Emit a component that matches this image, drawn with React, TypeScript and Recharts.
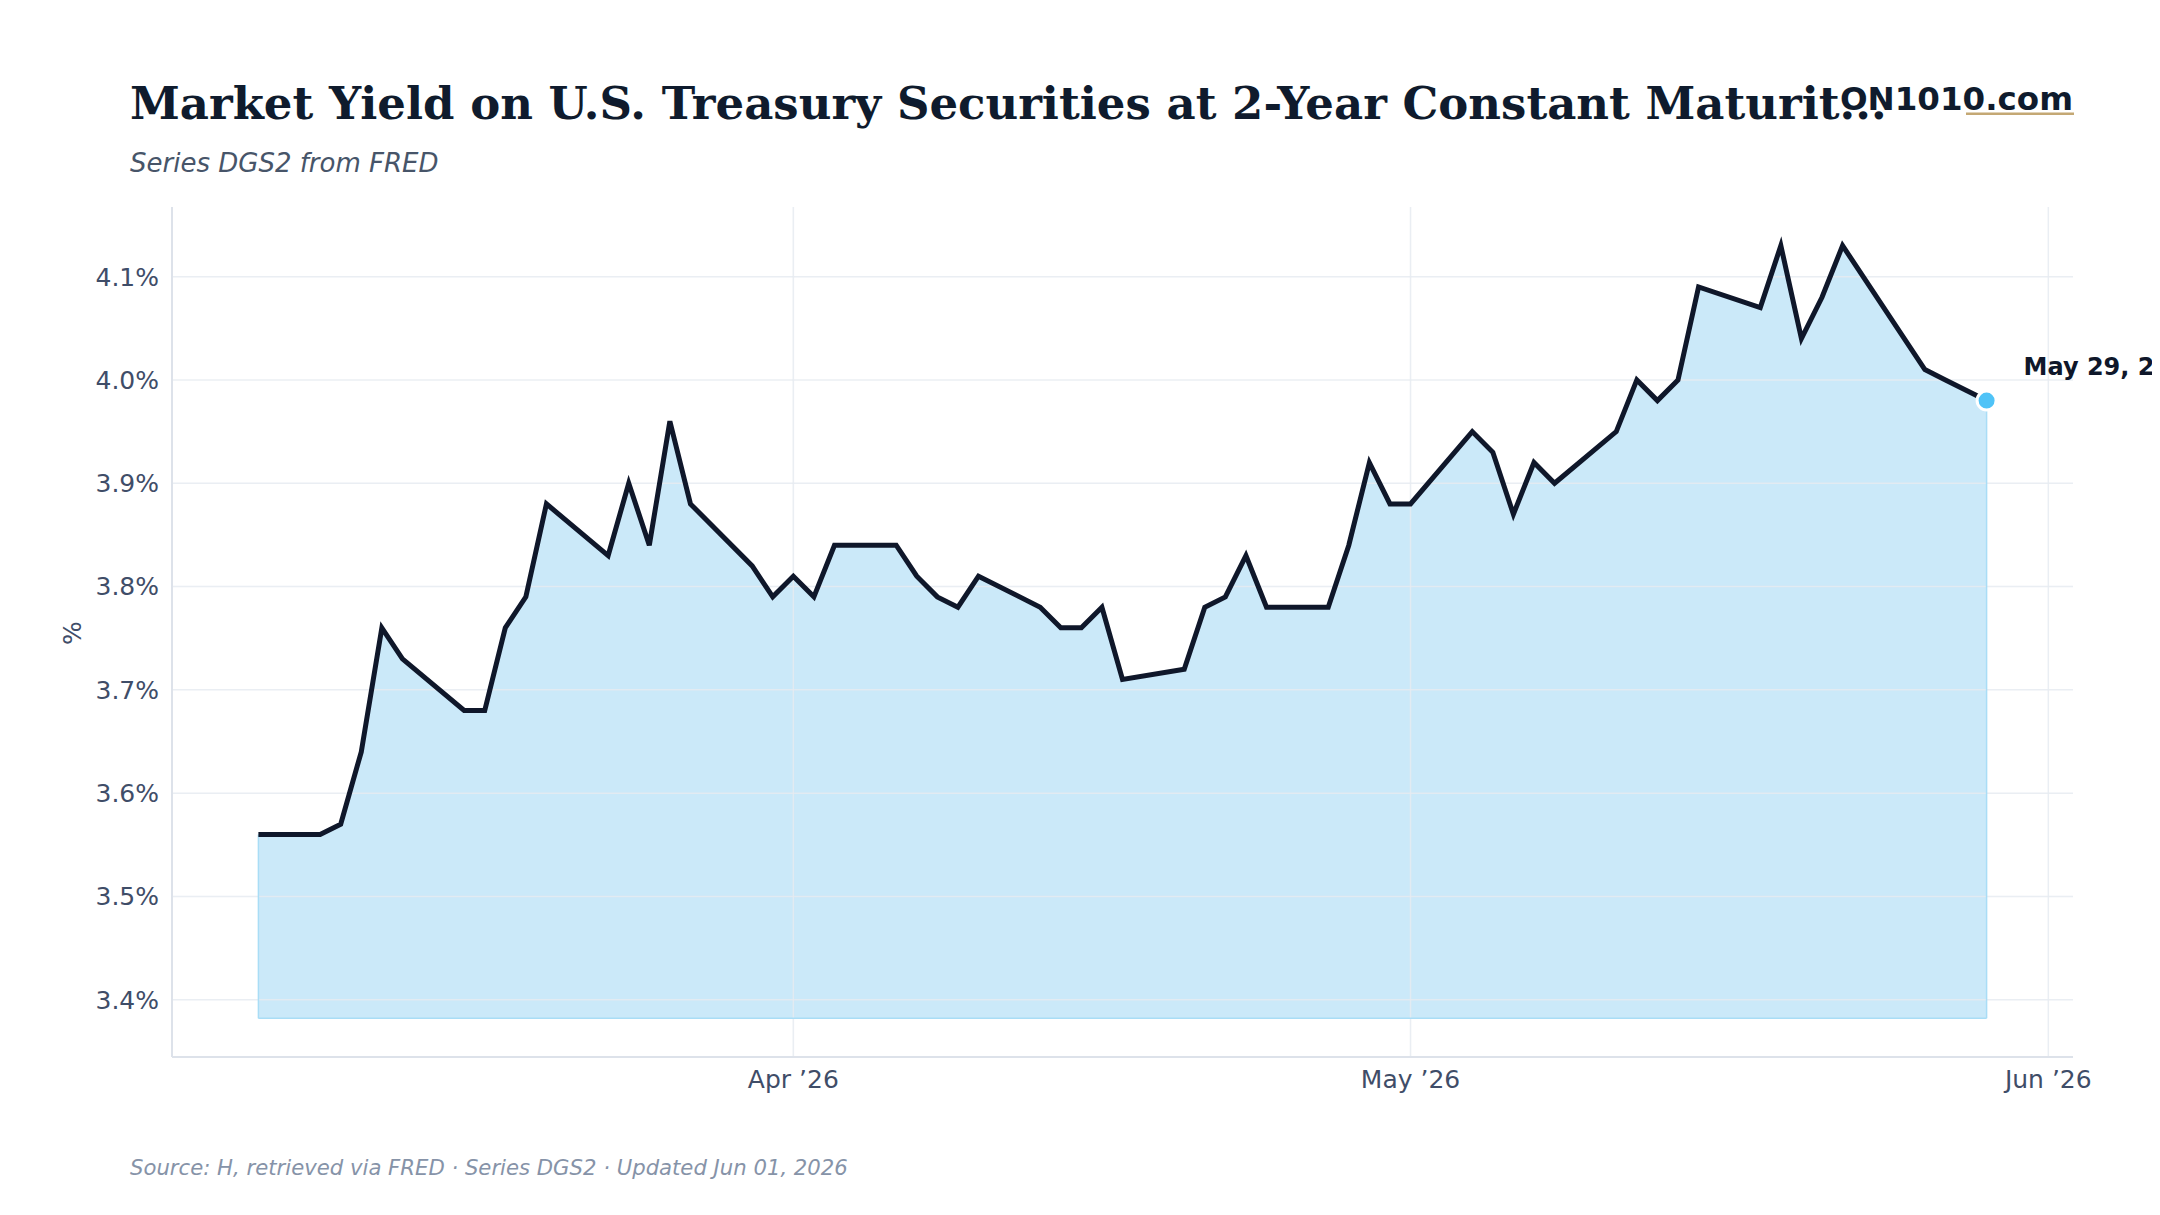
import React from 'react';
import { ComposedChart, Area, Line, XAxis, YAxis, CartesianGrid, ReferenceLine } from 'recharts';

// DGS2 daily observations (percent)
const dates: string[] = [
  '2026-03-06', '2026-03-09', '2026-03-10', '2026-03-11', '2026-03-12', '2026-03-13',
  '2026-03-16', '2026-03-17', '2026-03-18', '2026-03-19', '2026-03-20',
  '2026-03-23', '2026-03-24', '2026-03-25', '2026-03-26', '2026-03-27',
  '2026-03-30', '2026-03-31', '2026-04-01', '2026-04-02', '2026-04-03',
  '2026-04-06', '2026-04-07', '2026-04-08', '2026-04-09', '2026-04-10',
  '2026-04-13', '2026-04-14', '2026-04-15', '2026-04-16', '2026-04-17',
  '2026-04-20', '2026-04-21', '2026-04-22', '2026-04-23', '2026-04-24',
  '2026-04-27', '2026-04-28', '2026-04-29', '2026-04-30', '2026-05-01',
  '2026-05-04', '2026-05-05', '2026-05-06', '2026-05-07', '2026-05-08',
  '2026-05-11', '2026-05-12', '2026-05-13', '2026-05-14', '2026-05-15',
  '2026-05-18', '2026-05-19', '2026-05-20', '2026-05-21', '2026-05-22',
  '2026-05-26', '2026-05-27', '2026-05-28', '2026-05-29',
];

const yields: number[] = [
  3.56, 3.56, 3.57, 3.64, 3.76, 3.73,
  3.68, 3.68, 3.76, 3.79, 3.88,
  3.83, 3.90, 3.84, 3.96, 3.88,
  3.82, 3.79, 3.81, 3.79, 3.84,
  3.84, 3.81, 3.79, 3.78, 3.81,
  3.78, 3.76, 3.76, 3.78, 3.71,
  3.72, 3.78, 3.79, 3.83, 3.78,
  3.78, 3.84, 3.92, 3.88, 3.88,
  3.95, 3.93, 3.87, 3.92, 3.90,
  3.95, 4.00, 3.98, 4.00, 4.09,
  4.07, 4.13, 4.04, 4.08, 4.13,
  4.01, 4.00, 3.99, 3.98,
];

const yTicks: number[] = [3.4, 3.5, 3.6, 3.7, 3.8, 3.9, 4.0, 4.1];
const xTickDates: string[] = ['2026-04-01', '2026-05-01', '2026-06-01'];
const monthShort: string[] = ['Jan', 'Feb', 'Mar', 'Apr', 'May', 'Jun', 'Jul', 'Aug', 'Sep', 'Oct', 'Nov', 'Dec'];

const toTime = (d: string) => {
  const [y, m, day] = d.split('-').map(Number);
  return Date.UTC(y, m - 1, day);
};

const data = dates.map((d, i) => ({ t: toTime(d), v: yields[i] }));
const xTicks = xTickDates.map(toTime);

const minV = Math.min(...yields);
const maxV = Math.max(...yields);
const baseV = minV * 0.95;
const yPad = (maxV - baseV) * 0.05;
const firstT = data[0].t;
const lastT = data[data.length - 1].t;
const xPad = (lastT - firstT) * 0.05;
const lastIdx = data.length - 1;

const W = 2152;
const H = 1199;

const SANS = '"DejaVu Sans", Verdana, sans-serif';
const SERIF = '"DejaVu Serif", serif';

const fmtTick = (t: number) => {
  const d = new Date(t);
  return `${monthShort[d.getUTCMonth()]} \u2019${String(d.getUTCFullYear()).slice(2)}`;
};

const fmtLong = (t: number) => {
  const d = new Date(t);
  return `${monthShort[d.getUTCMonth()]} ${d.getUTCDate()}, ${d.getUTCFullYear()}`;
};

// Only the latest observation gets a marker and a date label
const EndDot = (props: any) => {
  const { cx, cy, index } = props;
  if (index !== lastIdx || cx == null || cy == null) return <g key={`d${index}`} />;
  return (
    <g key="end-dot">
      <circle cx={cx} cy={cy} r={9.5} fill="#4fc3f7" stroke="#ffffff" strokeWidth={3} />
      <text x={cx + 37} y={cy - 25.5} fontFamily={SANS} fontWeight="bold" fontSize={24} fill="#0f172a">
        {fmtLong(data[lastIdx].t)}
      </text>
    </g>
  );
};

export default function App() {
  return (
    <div style={{ position: 'relative', width: W, height: H }}>
      <ComposedChart
        width={W}
        height={H}
        data={data}
        margin={{ top: 199, right: 87, bottom: 100, left: 64 }}
      >
        <Area
          type="linear"
          dataKey="v"
          baseValue={baseV}
          fill="#cbe9f9"
          fillOpacity={1}
          stroke="none"
          isAnimationActive={false}
        />
        <CartesianGrid
          stroke="#e6ebf1"
          strokeOpacity={0.85}
          strokeWidth={1.5}
          syncWithTicks
          zIndex={150}
        />
        <ReferenceLine
          segment={[{ x: firstT, y: baseV }, { x: firstT, y: data[0].v }]}
          stroke="#a9ddf6"
          strokeWidth={1.5}
          ifOverflow="visible"
        />
        <ReferenceLine
          segment={[{ x: lastT, y: baseV }, { x: lastT, y: data[lastIdx].v }]}
          stroke="#a9ddf6"
          strokeWidth={1.5}
          ifOverflow="visible"
        />
        <ReferenceLine
          segment={[{ x: firstT, y: baseV }, { x: lastT, y: baseV }]}
          stroke="#a9ddf6"
          strokeWidth={1.5}
          ifOverflow="visible"
        />
        <XAxis
          dataKey="t"
          type="number"
          scale="linear"
          domain={[firstT - xPad, lastT + xPad]}
          ticks={xTicks}
          tickFormatter={fmtTick}
          height={50}
          tickLine={false}
          tickSize={6}
          tickMargin={7}
          axisLine={{ stroke: '#dde2ea', strokeWidth: 2 }}
          tick={{ fill: '#3f4d68', fontSize: 25, fontFamily: SANS }}
        />
        <YAxis
          type="number"
          domain={[baseV - yPad, maxV + yPad]}
          ticks={yTicks}
          tickFormatter={(v: number) => `${v.toFixed(1)}%`}
          width={100}
          tickLine={false}
          tickSize={6}
          tickMargin={7}
          axisLine={{ stroke: '#dde2ea', strokeWidth: 2 }}
          tick={{ fill: '#3f4d68', fontSize: 25, fontFamily: SANS }}
        />
        <Line
          type="linear"
          dataKey="v"
          stroke="#0f172a"
          strokeWidth={5}
          dot={EndDot}
          activeDot={false}
          isAnimationActive={false}
        />
      </ComposedChart>
      <svg
        width={W}
        height={H}
        style={{ position: 'absolute', left: 0, top: 0, pointerEvents: 'none' }}
      >
        <text x={122} y={111.3} fontFamily={SERIF} fontWeight="bold" fontSize={45} fill="#0f1b2d">
          Market Yield on U.S. Treasury Securities at 2-Year Constant Maturit...
        </text>
        <text x={122} y={163.7} fontFamily={SANS} fontStyle="italic" fontSize={26} fill="#475569">
          Series DGS2 from FRED
        </text>
        <text x={2065} y={102} textAnchor="end" fontFamily={SANS} fontWeight="bold" fontSize={32.5} fill="#0f1b2d">
          ON1010.com
        </text>
        <rect x={1958} y={104.5} width={108} height={2.5} fill="#c4a874" />
        <text
          x={64.3}
          y={625}
          transform="rotate(-90 64.3 625)"
          textAnchor="middle"
          dominantBaseline="central"
          fontFamily={SANS}
          fontSize={25}
          fill="#3f4d68"
        >
          %
        </text>
        <text x={122} y={1167} fontFamily={SANS} fontStyle="italic" fontSize={21.2} fill="#8693a8">
          Source: H, retrieved via FRED · Series DGS2 · Updated Jun 01, 2026
        </text>
      </svg>
    </div>
  );
}
